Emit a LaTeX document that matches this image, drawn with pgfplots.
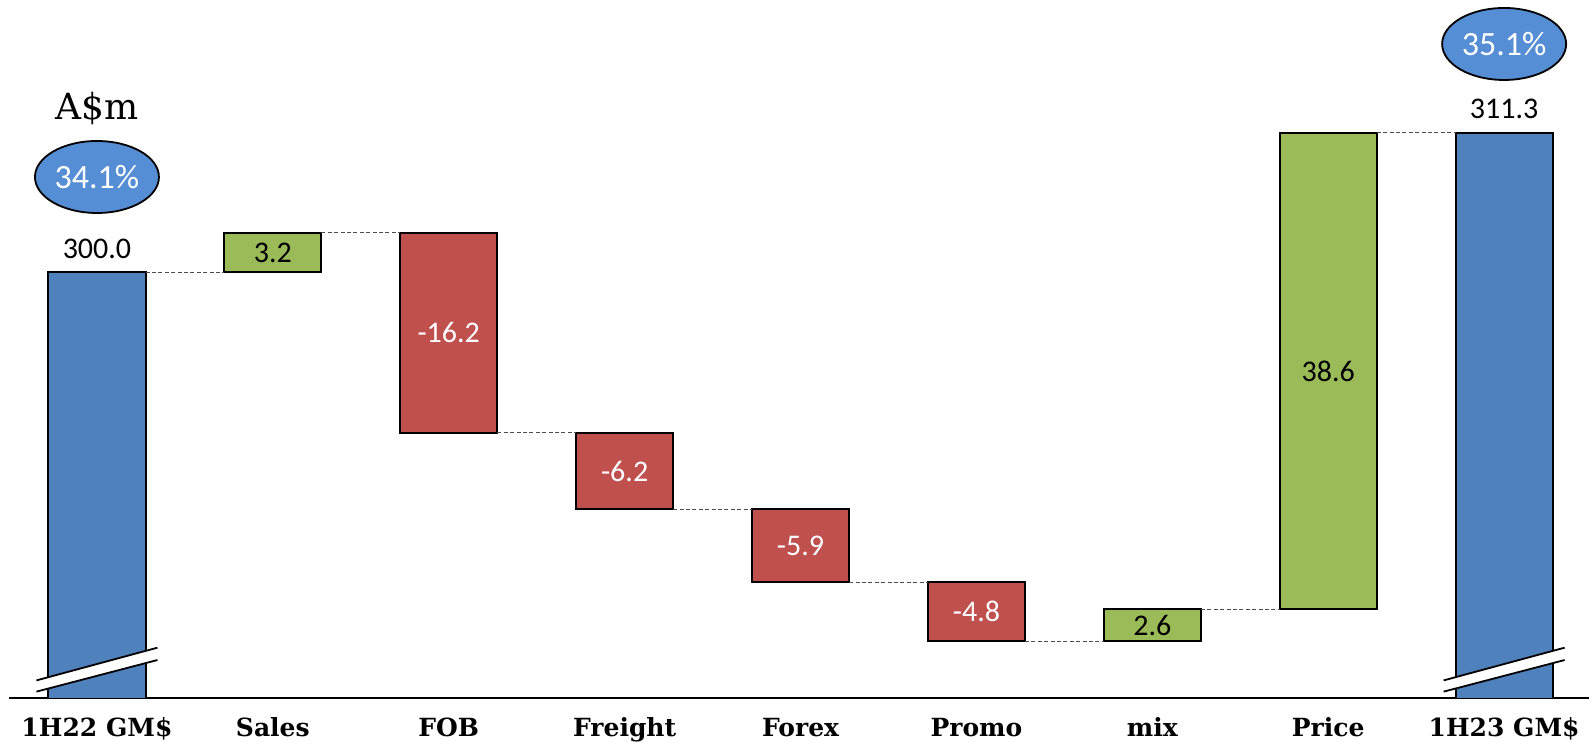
\documentclass[border=0pt]{standalone}
\usepackage{pgfplots}
\pgfplotsset{compat=1.18}
\usepackage{fontspec}
\setmainfont{Carlito}
\newfontfamily\slab{DejaVu Serif}
\definecolor{barblue}{HTML}{4F81BD}
\definecolor{bargreen}{HTML}{9BBB59}
\definecolor{barred}{HTML}{C0504D}
\definecolor{ellblue}{HTML}{558ED5}
\pgfplotsset{
  common/.style={
    scale only axis, width=791.55pt, height=348.9pt,
    xmin=-0.5, xmax=8.5, ymin=265.55, ymax=322.05,
    at={(0pt,0pt)}, anchor=south west,
  }
}
\begin{document}
\begin{tikzpicture}
\begin{axis}[
  common,
  ybar stacked, bar width=0.553,
  axis y line=none, axis x line=bottom,
  x axis line style={-, line width=1pt},
  xtick={0,...,8},
  xticklabels={1H22 GM\$, Sales, FOB, Freight, Forex, Promo, mix, Price, 1H23 GM\$},
  xtick style={draw=none},
  xticklabel style={font=\slab\bfseries\fontsize{12.5}{14}\selectfont, anchor=base, yshift=-17.5pt},
]
% invisible base
\addplot[draw=none, fill=none] coordinates {(0,0) (1,300) (2,287.0) (3,280.8) (4,274.9) (5,270.1) (6,270.1) (7,272.7) (8,0)};
% totals
\addplot[fill=barblue, draw=black, line width=1pt] coordinates {(0,300) (1,0) (2,0) (3,0) (4,0) (5,0) (6,0) (7,0) (8,311.3)};
% increases
\addplot[fill=bargreen, draw=black, line width=1pt] coordinates {(0,0) (1,3.2) (2,0) (3,0) (4,0) (5,0) (6,2.6) (7,38.6) (8,0)};
% decreases
\addplot[fill=barred, draw=black, line width=1pt] coordinates {(0,0) (1,0) (2,16.2) (3,6.2) (4,5.9) (5,4.8) (6,0) (7,0) (8,0)};
\end{axis}
\begin{axis}[common, hide axis, clip=false]
\addplot[gray!60!black, line width=0.6pt, dash pattern=on 2pt off 1.2pt, unbounded coords=jump, mark=none] coordinates {
 (0.2765,300) (0.7235,300) (0.5,nan)
 (1.2765,303.2) (1.7235,303.2) (1.5,nan)
 (2.2765,287.0) (2.7235,287.0) (2.5,nan)
 (3.2765,280.8) (3.7235,280.8) (3.5,nan)
 (4.2765,274.9) (4.7235,274.9) (4.5,nan)
 (5.2765,270.1) (5.7235,270.1) (5.5,nan)
 (6.2765,272.7) (6.7235,272.7) (6.5,nan)
 (7.2765,311.3) (7.7235,311.3)
};
% axis breaks
\fill[white] (axis cs:-0.344,266.04) -- (axis cs:0.344,268.60) -- (axis cs:0.344,269.60) -- (axis cs:-0.344,266.95) -- cycle;
\draw[line width=0.9pt] (axis cs:-0.344,266.04) -- (axis cs:0.344,268.60);
\draw[line width=0.9pt] (axis cs:-0.344,266.95) -- (axis cs:0.344,269.60);
\fill[white] (axis cs:7.656,266.04) -- (axis cs:8.344,268.60) -- (axis cs:8.344,269.60) -- (axis cs:7.656,266.95) -- cycle;
\draw[line width=0.9pt] (axis cs:7.656,266.04) -- (axis cs:8.344,268.60);
\draw[line width=0.9pt] (axis cs:7.656,266.95) -- (axis cs:8.344,269.60);
% value labels
\begin{scope}[every node/.style={font=\fontsize{15}{18}\selectfont, inner sep=0pt}]
\node[anchor=base] at (axis cs:0,301.13) {300.0};
\node[anchor=base] at (axis cs:8,312.47) {311.3};
\node at (axis cs:1,301.6) {3.2};
\node[text=white] at (axis cs:2,295.1) {-16.2};
\node[text=white] at (axis cs:3,283.9) {-6.2};
\node[text=white] at (axis cs:4,277.85) {-5.9};
\node[text=white] at (axis cs:5,272.5) {-4.8};
\node at (axis cs:6,271.4) {2.6};
\node at (axis cs:7,292.0) {38.6};
\end{scope}
% unit label
\node[anchor=base, inner sep=0pt, font=\slab\fontsize{18}{21}\selectfont] at (axis cs:0,312.33) {A\$m};
% margin ellipses
\draw[fill=ellblue, line width=0.9pt] (axis cs:0,307.71) ellipse [x radius=31pt, y radius=18pt];
\node[text=white, font=\fontsize{17}{20}\selectfont] at (axis cs:0,307.71) {34.1\%};
\draw[fill=ellblue, line width=0.9pt] (axis cs:8,318.48) ellipse [x radius=31pt, y radius=18pt];
\node[text=white, font=\fontsize{17}{20}\selectfont] at (axis cs:8,318.48) {35.1\%};
\end{axis}
\pgfresetboundingbox
\path[use as bounding box] (-4.5pt,-22.15pt) rectangle (790pt,348.85pt);
\end{tikzpicture}
\end{document}
